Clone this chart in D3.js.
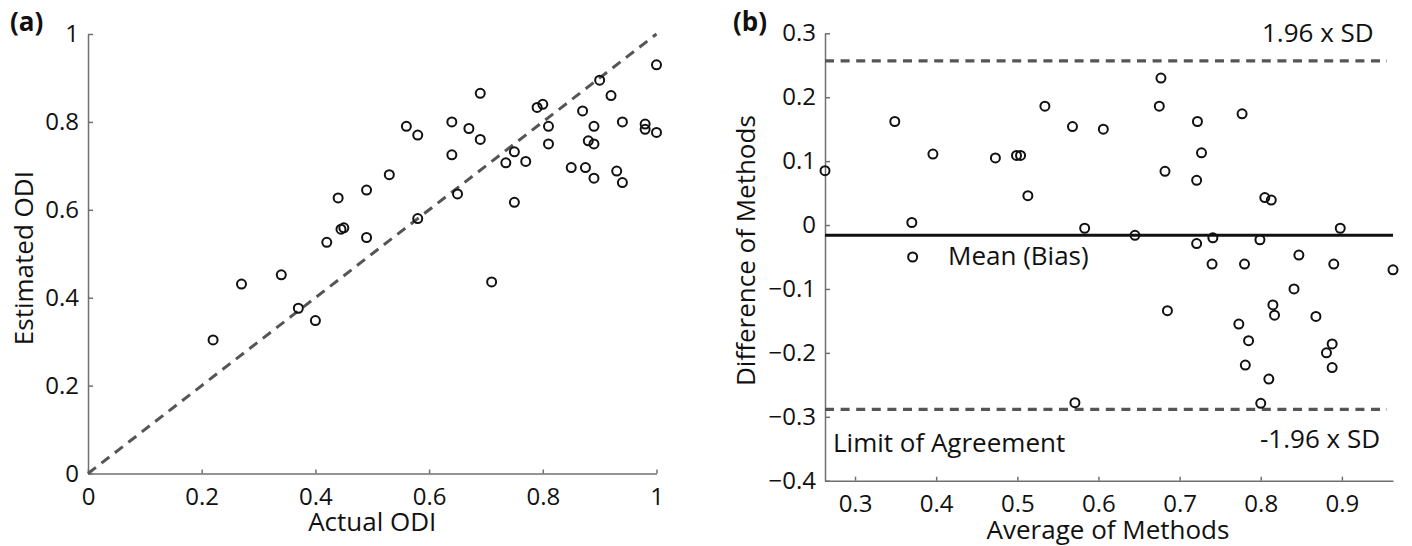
<!DOCTYPE html>
<html>
<head>
<meta charset="utf-8">
<script src="https://cdn.jsdelivr.net/npm/d3@7"></script>
<style>
  body { margin: 0; background: #fff; }
  text { font-family: "Open Sans", sans-serif; fill: #111; }
  .axis path, .axis line { stroke: #707070; stroke-width: 1.5; }
  .axis text { font-size: 24px; font-family: "Open Sans", sans-serif; fill: #111; }
</style>
</head>
<body>
<script>
// (a) Actual vs estimated ODI
const actualODI = [1.00, 0.90, 0.92, 0.69, 0.79, 0.80, 0.87, 0.56, 0.58, 0.64, 0.67, 0.69, 0.81, 0.89, 0.94, 0.98, 0.98, 1.00, 0.81, 0.88, 0.89, 0.64, 0.75, 0.735, 0.77, 0.85, 0.875, 0.89, 0.93, 0.94, 0.53, 0.49, 0.44, 0.65, 0.75, 0.445, 0.45, 0.42, 0.49, 0.58, 0.71, 0.22, 0.27, 0.34, 0.37, 0.40];
const estimatedODI = [0.93, 0.895, 0.86, 0.865, 0.833, 0.84, 0.825, 0.79, 0.77, 0.80, 0.785, 0.76, 0.79, 0.79, 0.80, 0.795, 0.783, 0.776, 0.75, 0.757, 0.75, 0.725, 0.732, 0.707, 0.71, 0.696, 0.696, 0.672, 0.688, 0.662, 0.68, 0.645, 0.627, 0.636, 0.617, 0.556, 0.559, 0.526, 0.537, 0.58, 0.436, 0.304, 0.431, 0.452, 0.376, 0.348];

// (b) Bland-Altman
const avgMethods = [0.263, 0.349, 0.370, 0.371, 0.396, 0.473, 0.499, 0.504, 0.513, 0.534, 0.568, 0.583, 0.571, 0.606, 0.645, 0.675, 0.677, 0.682, 0.685, 0.722, 0.721, 0.721, 0.727, 0.741, 0.740, 0.777, 0.780, 0.773, 0.785, 0.781, 0.799, 0.800, 0.805, 0.813, 0.810, 0.815, 0.817, 0.841, 0.847, 0.868, 0.890, 0.881, 0.888, 0.888, 0.898, 0.963];
const diffMethods = [0.085, 0.162, 0.004, -0.050, 0.111, 0.105, 0.109, 0.109, 0.046, 0.186, 0.154, -0.005, -0.278, 0.150, -0.016, 0.186, 0.230, 0.084, -0.134, 0.162, -0.029, 0.070, 0.113, -0.020, -0.061, 0.174, -0.061, -0.155, -0.181, -0.219, -0.023, -0.279, 0.043, 0.039, -0.241, -0.125, -0.141, -0.100, -0.047, -0.143, -0.061, -0.200, -0.186, -0.223, -0.005, -0.070];
const meanBias = -0.0158;
const upperLimit = 0.2567;
const lowerLimit = -0.2884;

const xTicksA = [0, 0.2, 0.4, 0.6, 0.8, 1];
const yTicksA = [0, 0.2, 0.4, 0.6, 0.8, 1];
const xTicksB = [0.3, 0.4, 0.5, 0.6, 0.7, 0.8, 0.9];
const yTicksB = [-0.4, -0.3, -0.2, -0.1, 0, 0.1, 0.2, 0.3];

const fmt = d => d < 0 ? "\u2212" + String(-d) : String(d);

const svg = d3.select("body").append("svg")
    .attr("width", 1412)
    .attr("height", 546);

// ---------- panel (a) ----------
const xA = d3.scaleLinear().domain([0, 1]).range([88, 656.5]);
const yA = d3.scaleLinear().domain([0, 1]).range([473.5, 34]);

svg.append("g")
    .attr("class", "axis")
    .attr("transform", `translate(0,${yA(0)})`)
    .call(d3.axisBottom(xA).tickValues(xTicksA).tickFormat(fmt).tickSizeInner(-4).tickSizeOuter(0).tickPadding(14));

svg.append("g")
    .attr("class", "axis")
    .attr("transform", `translate(${xA(0)},0)`)
    .call(d3.axisLeft(yA).tickValues(yTicksA).tickFormat(fmt).tickSizeInner(-5).tickSizeOuter(0).tickPadding(9));

// identity line
svg.append("line")
    .attr("x1", xA(0)).attr("y1", yA(0))
    .attr("x2", xA(1)).attr("y2", yA(1))
    .attr("stroke", "#555")
    .attr("stroke-width", 3)
    .attr("stroke-dasharray", "10,7");

svg.append("g").selectAll("circle")
    .data(actualODI)
    .enter()
    .append("circle")
    .attr("cx", d => xA(d))
    .attr("cy", (d, i) => yA(estimatedODI[i]))
    .attr("r", 4.5)
    .attr("fill", "none")
    .attr("stroke", "#111")
    .attr("stroke-width", 2);

svg.append("text")
    .attr("x", 10).attr("y", 31)
    .style("font-size", "26px").style("font-weight", "bold")
    .text("(a)");

svg.append("text")
    .attr("x", (xA(0) + xA(1)) / 2)
    .attr("y", 531)
    .attr("text-anchor", "middle")
    .style("font-size", "26px")
    .text("Actual ODI");

svg.append("text")
    .attr("transform", `translate(33,${yA(0.49)}) rotate(-90)`)
    .attr("text-anchor", "middle")
    .style("font-size", "26px")
    .text("Estimated ODI");

// ---------- panel (b) ----------
const xB = d3.scaleLinear().domain(d3.extent(avgMethods)).range([825, 1393]);
const yB = d3.scaleLinear().domain([-0.4, 0.3]).range([480.7, 33.3]);

svg.append("g")
    .attr("class", "axis")
    .attr("transform", `translate(0,${yB(-0.4)})`)
    .call(d3.axisBottom(xB).tickValues(xTicksB).tickFormat(fmt).tickSizeInner(-4).tickSizeOuter(0).tickPadding(14));

svg.append("g")
    .attr("class", "axis")
    .attr("transform", `translate(${xB.range()[0]},0)`)
    .call(d3.axisLeft(yB).tickValues(yTicksB).tickFormat(fmt).tickSizeInner(-5).tickSizeOuter(0).tickPadding(9));

const [bx0, bx1] = xB.range();

// limits of agreement
svg.append("g").selectAll("line")
    .data([upperLimit, lowerLimit])
    .enter()
    .append("line")
    .attr("x1", bx0).attr("x2", bx1 - 6)
    .attr("y1", d => yB(d)).attr("y2", d => yB(d))
    .attr("stroke", "#555")
    .attr("stroke-width", 3.2)
    .attr("stroke-dasharray", "9,6.6");

// mean
svg.append("line")
    .attr("x1", bx0).attr("x2", bx1)
    .attr("y1", yB(meanBias)).attr("y2", yB(meanBias))
    .attr("stroke", "#111")
    .attr("stroke-width", 3);

svg.append("g").selectAll("circle")
    .data(avgMethods)
    .enter()
    .append("circle")
    .attr("cx", d => xB(d))
    .attr("cy", (d, i) => yB(diffMethods[i]))
    .attr("r", 4.5)
    .attr("fill", "none")
    .attr("stroke", "#111")
    .attr("stroke-width", 2);

svg.append("text")
    .attr("x", 733).attr("y", 31)
    .style("font-size", "26px").style("font-weight", "bold")
    .text("(b)");

svg.append("text")
    .attr("x", 1262).attr("y", 42)
    .style("font-size", "26px")
    .text("1.96 x SD");

svg.append("text")
    .attr("x", 1260).attr("y", 448)
    .style("font-size", "26px")
    .text("-1.96 x SD");

svg.append("text")
    .attr("x", 948).attr("y", 265)
    .style("font-size", "26px")
    .text("Mean (Bias)");

svg.append("text")
    .attr("x", 833).attr("y", 452)
    .style("font-size", "26px")
    .text("Limit of Agreement");

svg.append("text")
    .attr("x", 1108)
    .attr("y", 539)
    .attr("text-anchor", "middle")
    .style("font-size", "26px")
    .text("Average of Methods");

svg.append("text")
    .attr("transform", `translate(755,${yB(-0.04)}) rotate(-90)`)
    .attr("text-anchor", "middle")
    .style("font-size", "26px")
    .text("Difference of Methods");
</script>
</body>
</html>
